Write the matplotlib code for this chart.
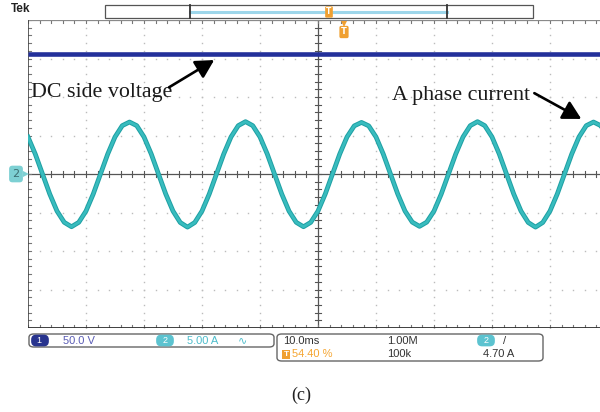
import matplotlib.pyplot as plt
from matplotlib.patches import FancyBboxPatch, Rectangle
from matplotlib.lines import Line2D

# ---- scope settings ----
time_per_div = 10.0      # ms/div
ch1_scale = 50.0         # V/div
ch2_scale = 5.0          # A/div
n_hdiv, n_vdiv = 10, 8

# ---- data (sampled every 1.25 ms, -50 ms .. +50 ms) ----
t_ms = [-50 + 1.25 * i for i in range(81)]
phase_current = [
    4.81, 2.60, 0.00, -2.60, -4.81, -6.28, -6.85, -6.28,
    -4.81, -2.60, 0.00, 2.60, 4.81, 6.28, 6.75, 6.28,
    4.81, 2.60, 0.00, -2.60, -4.81, -6.30, -6.90, -6.30,
    -4.81, -2.60, 0.00, 2.60, 4.81, 6.28, 6.80, 6.28,
    4.81, 2.60, 0.00, -2.60, -4.81, -6.28, -6.85, -6.28,
    -4.81, -2.60, 0.00, 2.60, 4.81, 6.25, 6.70, 6.25,
    4.81, 2.60, 0.00, -2.60, -4.81, -6.25, -6.80, -6.25,
    -4.81, -2.60, 0.00, 2.60, 4.81, 6.28, 6.80, 6.28,
    4.81, 2.60, 0.00, -2.60, -4.81, -6.30, -6.90, -6.30,
    -4.81, -2.60, 0.00, 2.60, 4.81, 6.28, 6.75, 6.28,
    4.81,
]
dc_t = [-50, 50]
dc_voltage = [156, 156]

W, H = 600, 412
fig = plt.figure(figsize=(6, 4.12), dpi=100)
fig.patch.set_facecolor("white")


def fx(x):
    return x / W


def fy(y):
    return 1 - y / H


# graticule area: x 28..608 px (right part cut off), y 20..328 px
ax = fig.add_axes([fx(28), fy(328), 580 / W, 308 / H])
ax.set_xlim(-n_hdiv / 2 * time_per_div, n_hdiv / 2 * time_per_div)
ax.set_ylim(-n_vdiv / 2, n_vdiv / 2)
ax.axis("off")

xmin, xmax = ax.get_xlim()
ymin, ymax = ax.get_ylim()
xminor = time_per_div / 5
yminor = 0.2

# dotted grid
gx, gy = [], []
for k in range(-4, 5):
    if k == 0:
        continue
    for j in range(-20, 21):
        gx.append(k * time_per_div)
        gy.append(j * yminor)
for k in range(-3, 4):
    if k == 0:
        continue
    for j in range(-25, 26):
        gx.append(j * xminor)
        gy.append(k)
ax.plot(gx, gy, ls="none", marker="s", ms=1.0, color="#bcbcbc", mew=0, zorder=1)

# center cross + borders with minor ticks
gc = "#555555"
ax.plot([xmin, xmax], [0, 0], color=gc, lw=0.9, zorder=2)
ax.plot([0, 0], [ymin, ymax], color=gc, lw=0.9, zorder=2)
tx = 0.065
ty = 0.45
for j in range(-25, 26):
    x = j * xminor
    ax.plot([x, x], [-tx, tx], color=gc, lw=0.8, zorder=2)
    ax.plot([x, x], [ymax, ymax - 0.09], color="#777777", lw=0.8, zorder=2)
    ax.plot([x, x], [ymin, ymin + 0.09], color="#777777", lw=0.8, zorder=2)
for j in range(-20, 21):
    y = j * yminor
    ax.plot([-ty, ty], [y, y], color=gc, lw=0.8, zorder=2)
    ax.plot([xmin, xmin + 0.6], [y, y], color="#777777", lw=0.8, zorder=2)
ax.plot([xmin, xmax], [ymax, ymax], color="#8a8a8a", lw=0.9, zorder=2)
ax.plot([xmin, xmin], [ymin, ymax], color="#444444", lw=1.2, zorder=2)
ax.plot([xmin, xmax], [ymin, ymin], color="#2e2e2e", lw=2.0, zorder=2)

# traces
dc_div = [v / ch1_scale for v in dc_voltage]
ax.plot(dc_t, dc_div, color="#23309a", lw=3.3, solid_capstyle="butt", zorder=4)
i_div = [v / ch2_scale for v in phase_current]
ax.plot(t_ms, i_div, color="#1e9fa3", lw=3.4, zorder=4)
ax.plot(t_ms, i_div, color="#38bcbe", lw=2.0, zorder=5)

# annotations
serif = "Liberation Serif"
arrow = dict(arrowstyle="-|>,head_length=1.1,head_width=0.6",
             color="black", lw=1.9, shrinkA=0, shrinkB=0)
ax.text(-49.5, 2.0, "DC side voltage", family=serif, fontsize=15.8,
        ha="left", va="baseline", color="#1a1a1a", zorder=6)
ax.annotate("", xy=(-17.9, 2.96), xytext=(-25.7, 2.25), arrowprops=arrow, zorder=6)
ax.text(12.8, 1.92, "A phase current", family=serif, fontsize=15.8,
        ha="left", va="baseline", color="#1a1a1a", zorder=6)
ax.annotate("", xy=(45.4, 1.43), xytext=(37.3, 2.10), arrowprops=arrow, zorder=6)

# ---- screen decorations ----
fig.text(fx(11), fy(9), "Tek", fontsize=8.5, fontweight="bold",
         family="Liberation Sans", ha="left", va="center", color="#222222")

# record view bar
fig.add_artist(Rectangle((fx(105), fy(18)), fx(428), 13 / H, transform=fig.transFigure,
                         fc="white", ec="#555555", lw=0.9))
fig.add_artist(Line2D([fx(190), fx(447)], [fy(12), fy(12)], transform=fig.transFigure,
                      color="#9dd6ea", lw=2.2))
for xb in (190, 447):
    fig.add_artist(Line2D([fx(xb), fx(xb)], [fy(5), fy(18)], transform=fig.transFigure,
                          color="#333333", lw=1.3))
fig.text(fx(329), fy(12), "T", fontsize=5.5, color="white", fontweight="bold",
         ha="center", va="center",
         bbox=dict(boxstyle="round,pad=0.15", fc="#f0a030", ec="none"))
# trigger position marker
fig.text(fx(344), fy(32), "T", fontsize=6, color="white", fontweight="bold",
         ha="center", va="center",
         bbox=dict(boxstyle="round,pad=0.2", fc="#f0a030", ec="none"))
fig.add_artist(Line2D([fx(344)], [fy(24)], transform=fig.transFigure, marker="v",
                      ms=5, color="#f0a030", mew=0))

# channel 2 ground marker
fig.text(fx(16), fy(174), "2", fontsize=8, color="#3b6d70", ha="center", va="center",
         bbox=dict(boxstyle="round,pad=0.3,rounding_size=0.3", fc="#7dd0d3", ec="none"))
fig.add_artist(Line2D([fx(25.5)], [fy(174)], transform=fig.transFigure, marker=">",
                      ms=5, color="#7dd0d3", mew=0))

# status bar
sans = "Liberation Sans"
fig.add_artist(FancyBboxPatch((fx(29), fy(347)), fx(245), 13 / H,
                              boxstyle="round,pad=0,rounding_size=0.008",
                              transform=fig.transFigure, fc="white", ec="#666666", lw=1.0))
fig.add_artist(FancyBboxPatch((fx(277), fy(361)), fx(266), 27 / H,
                              boxstyle="round,pad=0,rounding_size=0.008",
                              transform=fig.transFigure, fc="white", ec="#666666", lw=1.0))
row1, row2 = fy(340.5), fy(354)
oval = dict(boxstyle="round,pad=0.15,rounding_size=0.55", ec="none")
fig.text(fx(40), row1, "  1  ", fontsize=6.5, color="white", ha="center", va="center",
         family=sans, bbox=dict(fc="#28348e", **oval))
fig.text(fx(63), row1, "50.0 V", fontsize=8, color="#5a5cb5", ha="left", va="center",
         family=sans)
fig.text(fx(165), row1, "  2  ", fontsize=6.5, color="white", ha="center", va="center",
         family=sans, bbox=dict(fc="#5cc3d0", **oval))
fig.text(fx(187), row1, "5.00 A", fontsize=8, color="#4dbdcc", ha="left", va="center",
         family=sans)
fig.text(fx(238), row1, "∿", fontsize=8, color="#4dbdcc", ha="left", va="center",
         family="DejaVu Sans")

fig.text(fx(283), row1, "10.0ms", fontsize=8, color="#333333", ha="left", va="center",
         family=sans)
fig.text(fx(387), row1, "1.00M", fontsize=8, color="#333333", ha="left", va="center",
         family=sans)
fig.text(fx(486), row1, "  2  ", fontsize=6.5, color="white", ha="center", va="center",
         family=sans, bbox=dict(fc="#5cc3d0", **oval))
fig.text(fx(503), row1, "/", fontsize=8, color="#333333", ha="left", va="center",
         family=sans)
fig.text(fx(286), row2, "T", fontsize=6, color="white", fontweight="bold", ha="center",
         va="center", family=sans,
         bbox=dict(boxstyle="square,pad=0.12", fc="#f0a030", ec="none"))
fig.text(fx(292), row2, "54.40 %", fontsize=8, color="#f5a531", ha="left", va="center",
         family=sans)
fig.text(fx(387), row2, "100k", fontsize=8, color="#333333", ha="left", va="center",
         family=sans)
fig.text(fx(483), row2, "4.70 A", fontsize=8, color="#333333", ha="left", va="center",
         family=sans)

# figure caption
fig.text(fx(301), fy(395), "(c)", family=serif, fontsize=13, ha="center", va="center",
         color="#222222")

fig.savefig("out.png", dpi=100, facecolor="white")
